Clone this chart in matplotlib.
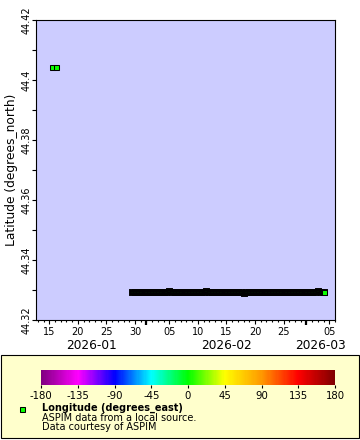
import matplotlib
matplotlib.use("Agg")
import matplotlib.pyplot as plt
import matplotlib.dates as mdates
import matplotlib.colors as mcolors
import matplotlib.patches as mpatches
import matplotlib.transforms as mtrans
import numpy as np
import pandas as pd

plt.rcParams['font.family'] = ['DejaVu Sans']
plt.rcParams['axes.unicode_minus'] = False

# ---- data ----
early_times = ['2026-01-15 10:00', '2026-01-16 06:00']
early_lat = [44.4043, 44.4043]
early_lon = [2.0, 2.0]

track_start = '2026-01-29 12:00'
track_end = '2026-03-04 00:00'
track_lat = [
    44.3293, 44.3293, 44.3293, 44.3293, 44.3293, 44.3293, 44.3293, 44.3293, 44.3293, 44.3293,
    44.3293, 44.3293, 44.3293, 44.3296, 44.3293, 44.3293, 44.3293, 44.3293, 44.3293, 44.3293,
    44.3293, 44.3293, 44.3293, 44.3293, 44.3293, 44.3293, 44.3296, 44.3293, 44.3293, 44.3293,
    44.3293, 44.3293, 44.3293, 44.3293, 44.3293, 44.3293, 44.3293, 44.3293, 44.3293, 44.3290,
    44.3293, 44.3293, 44.3293, 44.3293, 44.3293, 44.3293, 44.3293, 44.3293, 44.3293, 44.3293,
    44.3293, 44.3293, 44.3295, 44.3295, 44.3295, 44.3295, 44.3295, 44.3295, 44.3295, 44.3295,
    44.3295, 44.3293, 44.3293, 44.3293, 44.3293, 44.3296, 44.3293, 44.3293, 44.3293, 44.3293,
]
track_lon = [2.0] * len(track_lat)

x_range = ['2026-01-12 16:00', '2026-03-06 00:00']
y_range = [44.32, 44.42]
cbar_range = [-180, 180]
cbar_ticks = [-180, -135, -90, -45, 0, 45, 90, 135, 180]
cmap_colors = ['#800080', '#ff00ff', '#0000ff', '#00ffff', '#00ff00',
               '#ffff00', '#ff9900', '#ff0000', '#800000']
legend_title = 'Longitude (degrees_east)'
legend_lines = ['ASPIM data from a local source.', 'Data courtesy of ASPIM']
y_label = 'Latitude (degrees_north)'

# ---- figure ----
W, H = 360, 440
fig = plt.figure(figsize=(W / 100, H / 100), dpi=100)
fig.patch.set_facecolor('white')

cmap = mcolors.LinearSegmentedColormap.from_list('rb2', cmap_colors)
norm = mcolors.Normalize(cbar_range[0], cbar_range[1])

# legend box (behind the colorbar axes)
box = mpatches.Rectangle((1 / W, 1 - 438 / H), 358 / W, 83 / H, transform=fig.transFigure,
                         facecolor='#ffffcc', edgecolor='black', lw=0.8, zorder=-5)
fig.patches.append(box)

ax = fig.add_axes([36 / W, 1 - 320 / H, 299 / W, 300 / H])
ax.set_facecolor('#ccccff')

early_t = pd.to_datetime(early_times)
track_t = pd.date_range(track_start, track_end, freq='12h')

# dense track: overlapping markers merge into a black band
for t, la, lo in zip(track_t, track_lat, track_lon):
    ax.plot([t], [la], 's', ms=2.2, mew=2.1, mec='black', mfc=cmap(norm(lo)), zorder=3)
# final point of track drawn normally
ax.plot([track_t[-1]], [track_lat[-1]], 's', ms=3.6, mew=0.75, mec='black',
        mfc=cmap(norm(track_lon[-1])), zorder=4)
for t, la, lo in zip(early_t, early_lat, early_lon):
    ax.plot([t], [la], 's', ms=3.6, mew=0.75, mec='black', mfc=cmap(norm(lo)), zorder=4)

ax.set_xlim(pd.Timestamp(x_range[0]), pd.Timestamp(x_range[1]))
ax.set_ylim(*y_range)

for s in ax.spines.values():
    s.set_color('black')
    s.set_linewidth(0.8)

# x axis
ax.xaxis.set_major_locator(mdates.DayLocator(bymonthday=[5, 10, 15, 20, 25, 30]))
ax.xaxis.set_major_formatter(mdates.DateFormatter('%d'))
ax.xaxis.set_minor_locator(mdates.DayLocator())
ax.tick_params(axis='x', which='major', direction='out', length=3, width=0.8,
               labelsize=7, pad=2)
ax.tick_params(axis='x', which='minor', direction='out', length=1.6, width=0.8)

# month boundary ticks
blend = mtrans.blended_transform_factory(ax.transData, ax.transAxes)
xmin, xmax = pd.Timestamp(x_range[0]), pd.Timestamp(x_range[1])
months = pd.date_range(xmin.normalize().replace(day=1), xmax, freq='MS')
bounds = [xmin] + [m for m in months if m > xmin] + [xmax]
for m in months:
    if xmin < m < xmax:
        ax.plot([m, m], [0, -0.017], color='black', lw=1.6, transform=blend,
                clip_on=False, solid_capstyle='butt')
# month labels
for a, b in zip(bounds[:-1], bounds[1:]):
    mid = a + (b - a) / 2
    ax.text(mid, -0.085, a.strftime('%Y-%m'), transform=blend, ha='center', va='center',
            fontsize=8.7, clip_on=False)

# y axis
ax.set_yticks(np.arange(44.32, 44.4201, 0.02))
ax.set_yticks(np.arange(44.33, 44.4201, 0.02), minor=True)
ax.yaxis.set_major_formatter(matplotlib.ticker.FuncFormatter(lambda v, p: '%g' % round(v, 4)))
ax.tick_params(axis='y', which='major', direction='out', length=3, width=0.8,
               labelsize=7, pad=0)
ax.tick_params(axis='y', which='minor', direction='out', length=3, width=0.8)
for lab in ax.get_yticklabels():
    lab.set_rotation(90)
    lab.set_va('center')
ax.set_ylabel(y_label, fontsize=8.8, labelpad=3)

cax = fig.add_axes([41 / W, 1 - 385 / H, 294 / W, 15 / H])
cb = matplotlib.colorbar.ColorbarBase(cax, cmap=cmap, norm=norm, orientation='horizontal',
                                      ticks=cbar_ticks)
cb.outline.set_visible(False)
cax.tick_params(labelsize=7.3, length=2.5, width=0.8, pad=1.5)

fig.lines.append(matplotlib.lines.Line2D([22 / W], [1 - 409 / H], marker='s', ms=3.6, mew=0.75,
                                         mec='black', mfc=cmap(norm(track_lon[-1])),
                                         transform=fig.transFigure))
fig.text(42 / W, 1 - 408 / H, legend_title, fontsize=7, fontweight='bold', va='center')
fig.text(42 / W, 1 - 418 / H, legend_lines[0], fontsize=7, va='center')
fig.text(42 / W, 1 - 427 / H, legend_lines[1], fontsize=7, va='center')

fig.savefig('out.png', dpi=100)
